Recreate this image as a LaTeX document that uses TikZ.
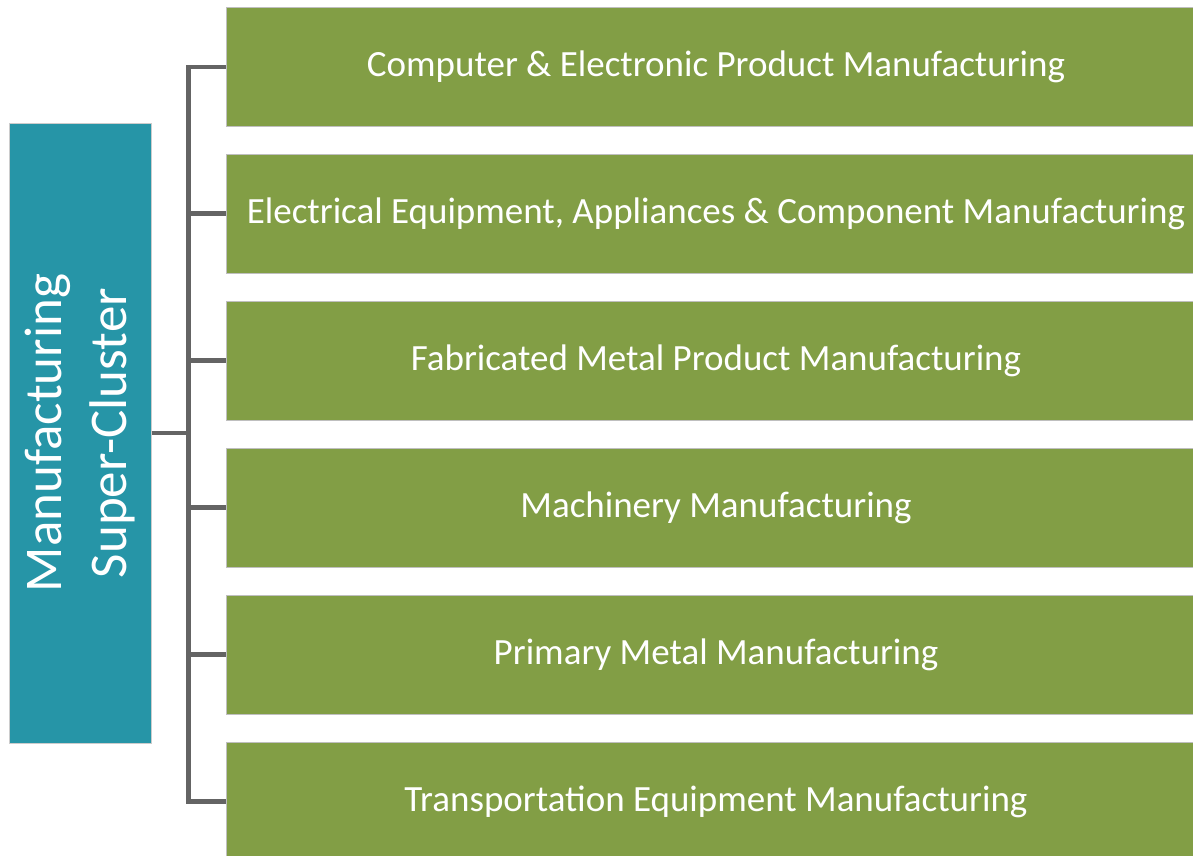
\documentclass[tikz,border=0pt]{standalone}
\usepackage{fontspec}
\setmainfont{Carlito}
\definecolor{sectorgreen}{RGB}{130,158,69}
\definecolor{superteal}{RGB}{38,149,167}
\definecolor{linkgray}{RGB}{100,100,100}
\tikzset{
    sector/.style={draw=black!25,line width=0.8pt,fill=sectorgreen,text=white,
        minimum width=980pt,minimum height=119pt,inner sep=0pt,
        font=\fontsize{37}{44}\selectfont},
    supercluster/.style={draw=black!20,line width=0.8pt,fill=superteal,text=white,
        rotate=90,minimum width=620pt,minimum height=142pt,inner sep=0pt,
        align=center,font=\fontsize{53}{65}\selectfont},
    link/.style={draw=linkgray,line width=4.5pt}
}
\begin{document}
\begin{tikzpicture}[x=1pt,y=1pt]
        \useasboundingbox (0,0) rectangle (1193,-855);
        %% Super cluster
        \node[supercluster] (S) at (80.3,-433) {Manufacturing\\Super-Cluster};
        %% Sectors
        \node[sector] (C1) at (716,-67)    {Computer \& Electronic Product Manufacturing};
        \node[sector] (C2) at (716,-213.5) {Electrical Equipment, Appliances \& Component Manufacturing};
        \node[sector] (C3) at (716,-360.5) {Fabricated Metal Product Manufacturing};
        \node[sector] (C4) at (716,-507.5) {Machinery Manufacturing};
        \node[sector] (C5) at (716,-654.5) {Primary Metal Manufacturing};
        \node[sector] (C6) at (716,-801.5) {Transportation Equipment Manufacturing};
        %% Spine
        \coordinate (spine) at (188.5,-433);
        \draw[link] (C1.west) -- (C1.west -| spine) -- (C6.west -| spine) -- (C6.west);
        \draw[link] (C2.west) -- (C2.west -| spine);
        \draw[link] (C3.west) -- (C3.west -| spine);
        \draw[link] (C4.west) -- (C4.west -| spine);
        \draw[link] (C5.west) -- (C5.west -| spine);
        \draw[link] (S.south) -- (spine);
    \end{tikzpicture}
\end{document}
